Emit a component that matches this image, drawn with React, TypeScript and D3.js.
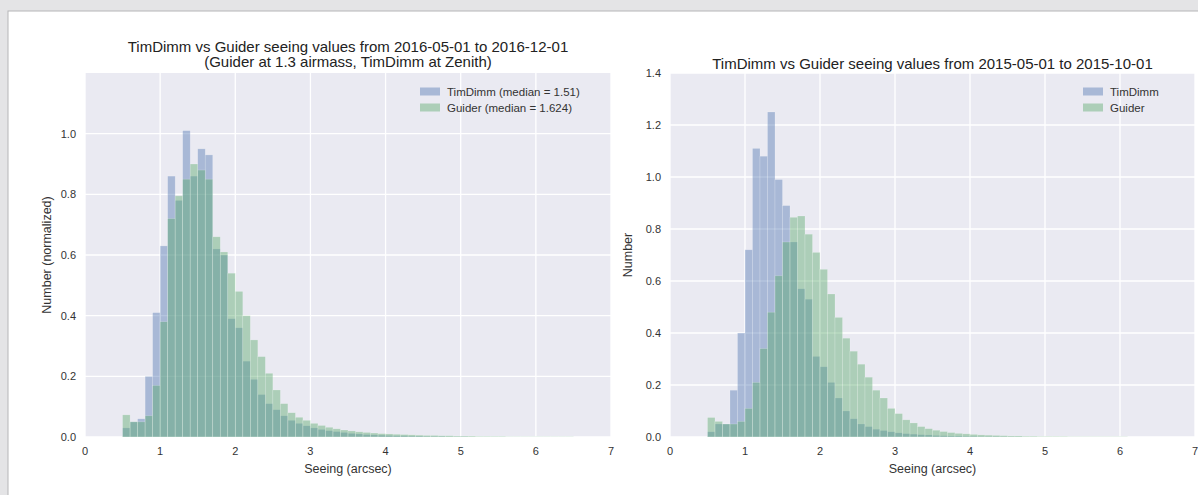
import React from "react";
import * as d3 from "d3";

// Histogram bins: 0.1 arcsec wide, first bin starts at 0.5 arcsec
const binStart = 0.5;
const binWidth = 0.1;

// 2016-05-01 .. 2016-12-01 (normalized counts)
const timDimm2016 = [
  0.03, 0.05, 0.06, 0.2, 0.41, 0.63, 0.86, 0.78, 1.01, 0.86, 0.95, 0.93, 0.62,
  0.6, 0.39, 0.36, 0.25, 0.19, 0.14, 0.11, 0.09, 0.07, 0.055, 0.045, 0.037,
  0.03, 0.025, 0.021, 0.018, 0.015, 0.012, 0.01, 0.008, 0.007, 0.006, 0.005,
  0.004, 0.004, 0.003, 0.003, 0.002, 0.002, 0.002, 0.001, 0.001, 0.001,
];
const guider2016 = [
  0.073, 0.05, 0.05, 0.07, 0.17, 0.38, 0.72, 0.795, 0.85, 0.9, 0.88, 0.85,
  0.66, 0.61, 0.54, 0.48, 0.4, 0.32, 0.265, 0.21, 0.155, 0.11, 0.08, 0.065,
  0.055, 0.045, 0.038, 0.032, 0.027, 0.023, 0.02, 0.017, 0.015, 0.013, 0.011,
  0.01, 0.009, 0.008, 0.007, 0.006, 0.005, 0.005, 0.004, 0.004, 0.003, 0.003,
  0.003, 0.002, 0.002, 0.002, 0.002, 0.001, 0.001, 0.001, 0.001, 0.001, 0.001,
  0.001, 0.001, 0.001,
];

// 2015-05-01 .. 2015-10-01
const timDimm2015 = [
  0.02, 0.05, 0.05, 0.18, 0.4, 0.72, 1.11, 1.08, 1.25, 0.99, 0.89, 0.75, 0.57,
  0.53, 0.31, 0.27, 0.21, 0.15, 0.1, 0.07, 0.05, 0.04, 0.03, 0.025, 0.02,
  0.016, 0.013, 0.011, 0.009, 0.008, 0.006, 0.005, 0.004, 0.004, 0.003, 0.003,
  0.002, 0.002, 0.002, 0.001, 0.001, 0.001,
];
const guider2015 = [
  0.075, 0.06, 0.05, 0.05, 0.06, 0.11, 0.21, 0.34, 0.48, 0.62, 0.75, 0.845,
  0.85, 0.78, 0.71, 0.645, 0.55, 0.46, 0.38, 0.33, 0.28, 0.23, 0.18, 0.15,
  0.11, 0.09, 0.066, 0.054, 0.04, 0.032, 0.026, 0.021, 0.017, 0.014, 0.012,
  0.01, 0.008, 0.007, 0.006, 0.005, 0.004, 0.004, 0.003, 0.003, 0.002, 0.002,
  0.002, 0.002, 0.001, 0.001, 0.001, 0.001, 0.001, 0.001, 0.001, 0.001,
];

const xTicks = [0, 1, 2, 3, 4, 5, 6, 7];
const yTicks2016 = [0, 0.2, 0.4, 0.6, 0.8, 1.0];
const yTicks2015 = [0, 0.2, 0.4, 0.6, 0.8, 1.0, 1.2, 1.4];

const FONT = "'Liberation Sans', Arial, Helvetica, sans-serif";
const BLUE = "#4C72B0";
const GREEN = "#55A868";
const PANEL = "#EAEAF2";
const TEXT = "#333";

type PanelProps = {
  left: number;
  right: number;
  top: number;
  bottom: number;
  yMax: number;
  yTicks: number[];
  titles: string[];
  titleY: number[];
  yLabel: string;
  yLabelX: number;
  series: { values: number[]; color: string; label: string }[];
  legendX: number;
};

function Panel(p: PanelProps) {
  const x = d3.scaleLinear().domain([0, 7]).range([p.left, p.right]);
  const y = d3.scaleLinear().domain([0, p.yMax]).range([p.bottom, p.top]);
  const cx = (p.left + p.right) / 2;
  return (
    <g>
      <rect
        x={p.left}
        y={p.top}
        width={p.right - p.left}
        height={p.bottom - p.top}
        fill={PANEL}
      />
      {xTicks.map((t) => (
        <line
          key={"gx" + t}
          x1={x(t)}
          x2={x(t)}
          y1={p.top}
          y2={p.bottom}
          stroke="#fff"
          strokeWidth={1.3}
        />
      ))}
      {p.yTicks.map((t) => (
        <line
          key={"gy" + t}
          x1={p.left}
          x2={p.right}
          y1={y(t)}
          y2={y(t)}
          stroke="#fff"
          strokeWidth={1.3}
        />
      ))}
      {p.series.map((s, si) => (
        <g key={"s" + si}>
          {s.values.map((v, i) => {
            const x0 = x(binStart + i * binWidth);
            const x1 = x(binStart + (i + 1) * binWidth);
            return (
              <rect
                key={i}
                x={x0}
                y={y(v)}
                width={x1 - x0}
                height={p.bottom - y(v)}
                fill={s.color}
                fillOpacity={0.42}
                stroke="#ffffff"
                strokeOpacity={0.3}
                strokeWidth={0.6}
              />
            );
          })}
        </g>
      ))}
      {xTicks.map((t) => (
        <text
          key={"tx" + t}
          x={x(t)}
          y={p.bottom + 18}
          textAnchor="middle"
          fontSize={11}
          fill={TEXT}
        >
          {t}
        </text>
      ))}
      {p.yTicks.map((t) => (
        <text
          key={"ty" + t}
          x={p.left - 9}
          y={y(t) + 4}
          textAnchor="end"
          fontSize={11}
          fill={TEXT}
        >
          {d3.format(".1f")(t)}
        </text>
      ))}
      {p.titles.map((t, i) => (
        <text
          key={"t" + i}
          x={cx}
          y={p.titleY[i]}
          textAnchor="middle"
          fontSize={15}
          fill="#222"
        >
          {t}
        </text>
      ))}
      <text
        x={cx}
        y={p.bottom + 36}
        textAnchor="middle"
        fontSize={12.5}
        fill={TEXT}
      >
        Seeing (arcsec)
      </text>
      <text
        transform={`translate(${p.yLabelX},${(p.top + p.bottom) / 2}) rotate(-90)`}
        textAnchor="middle"
        fontSize={12.5}
        fill={TEXT}
      >
        {p.yLabel}
      </text>
      {p.series.map((s, si) => (
        <g key={"l" + si} transform={`translate(${p.legendX},${p.top + 19 + si * 16})`}>
          <rect x={0} y={-4.5} width={20} height={8} fill={s.color} fillOpacity={0.42} />
          <text x={27} y={4} fontSize={11.5} fill={TEXT}>
            {s.label}
          </text>
        </g>
      ))}
    </g>
  );
}

export default function App() {
  return (
    <svg
      width={1198}
      height={495}
      style={{ position: "absolute", left: 0, top: 0, fontFamily: FONT }}
    >
      <rect x={0} y={0} width={1198} height={495} fill="#e4e4e6" />
      <rect x={8} y={11} width={1200} height={500} fill="#fff" stroke="#b5b5b8" strokeWidth={1} />
      <Panel
        left={85}
        right={611}
        top={73}
        bottom={437}
        yMax={1.2}
        yTicks={yTicks2016}
        titles={[
          "TimDimm vs Guider seeing values from 2016-05-01 to 2016-12-01",
          "(Guider at 1.3 airmass, TimDimm at Zenith)",
        ]}
        titleY={[52, 67]}
        yLabel="Number (normalized)"
        yLabelX={51}
        legendX={420}
        series={[
          { values: timDimm2016, color: BLUE, label: "TimDimm (median = 1.51)" },
          { values: guider2016, color: GREEN, label: "Guider (median = 1.624)" },
        ]}
      />
      <Panel
        left={670}
        right={1195}
        top={73}
        bottom={437}
        yMax={1.4}
        yTicks={yTicks2015}
        titles={["TimDimm vs Guider seeing values from 2015-05-01 to 2015-10-01"]}
        titleY={[69]}
        yLabel="Number"
        yLabelX={632}
        legendX={1083}
        series={[
          { values: timDimm2015, color: BLUE, label: "TimDimm" },
          { values: guider2015, color: GREEN, label: "Guider" },
        ]}
      />
    </svg>
  );
}
